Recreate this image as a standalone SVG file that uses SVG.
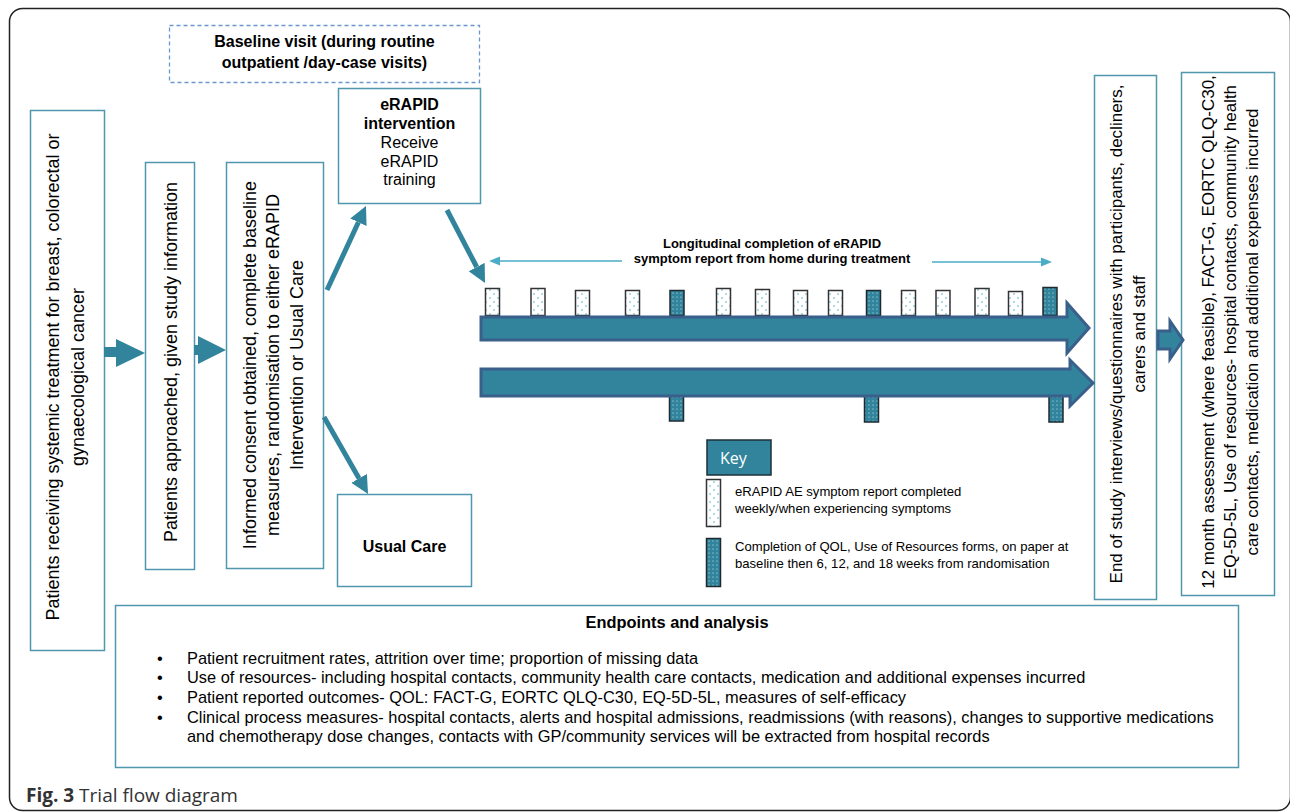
<svg xmlns="http://www.w3.org/2000/svg" width="1290" height="812" viewBox="0 0 1290 812">
<defs>
<style>
.bx{fill:#fff;stroke:#4f97ad;stroke-width:1.5}
.t{font-family:"Liberation Sans",Arial,sans-serif;font-size:16px;fill:#000}
.r18{font-size:18px}
.r17{font-size:17px}
.e{font-size:16.4px}
.b{font-weight:bold}
.m{text-anchor:middle}
.k{font-family:"Liberation Sans",Arial,sans-serif;font-size:13.1px;fill:#000}
.big{fill:#31849b;stroke:#3a5f8b;stroke-width:3;stroke-linejoin:miter}
.blk{fill:#31849b}
.diag{stroke:#31849b;stroke-width:5;fill:none}
.thin{stroke:#4bacc6;stroke-width:1.5;fill:none}
.wr{fill:url(#pw);stroke:#333;stroke-width:1.5}
.tr{fill:url(#pt);stroke:#1e2a30;stroke-width:1.5}
</style>
<pattern id="pw" patternUnits="userSpaceOnUse" width="8" height="8">
<rect width="8" height="8" fill="#fff"/>
<circle cx="2" cy="2" r="0.8" fill="#4bacc6"/>
<circle cx="6" cy="6" r="0.8" fill="#4bacc6"/>
</pattern>
<pattern id="pt" patternUnits="userSpaceOnUse" width="4" height="4">
<rect width="4" height="4" fill="#31849b"/>
<circle cx="1" cy="1" r="0.6" fill="#d8eef2"/>
</pattern>
<marker id="ah" markerUnits="userSpaceOnUse" markerWidth="20" markerHeight="20" refX="0" refY="9" orient="auto">
<path d="M0,0 L18,9 L0,18 Z" fill="#31849b"/>
</marker>
<marker id="sh" markerUnits="userSpaceOnUse" markerWidth="12" markerHeight="10" refX="0" refY="4.5" orient="auto">
<path d="M0,0 L11,4.5 L0,9 Z" fill="#4bacc6"/>
</marker>
</defs>

<rect x="9.5" y="8.5" width="1281" height="802" rx="13" fill="#fff" stroke="#222" stroke-width="1.5"/>

<g id="baseline-visit">
<rect x="169.5" y="25.5" width="310" height="57" fill="none" stroke="#6b97cf" stroke-width="1.3" stroke-dasharray="4 3"/>
<text class="t b m" x="324.5" y="47">Baseline visit (during routine</text>
<text class="t b m" x="324.5" y="68">outpatient /day-case visits)</text>
</g>

<g id="patients-receiving">
<rect class="bx" x="30.5" y="110.5" width="74" height="540"/>
<text class="t r18 m" transform="translate(59,377) rotate(-90)">Patients receiving systemic treatment for breast, colorectal or</text>
<text class="t r18 m" transform="translate(84,377) rotate(-90)">gynaecological cancer</text>
</g>

<g id="patients-approached">
<rect class="bx" x="145.5" y="162.5" width="49" height="407"/>
<text class="t r18 m" transform="translate(176.5,362) rotate(-90)">Patients approached, given study information</text>
</g>

<g id="informed-consent">
<rect class="bx" x="226.5" y="162.5" width="97" height="406"/>
<text class="t r18 m" transform="translate(256,365) rotate(-90)">Informed consent obtained, complete baseline</text>
<text class="t r18 m" transform="translate(279,365) rotate(-90)">measures, randomisation to either eRAPID</text>
<text class="t r18 m" transform="translate(303,365) rotate(-90)">Intervention or Usual Care</text>
</g>

<g id="erapid-intervention">
<rect class="bx" x="338.5" y="88.5" width="142" height="115"/>
<text class="t b m" x="409.5" y="110">eRAPID</text>
<text class="t b m" x="409.5" y="129">intervention</text>
<text class="t m" x="409.5" y="148">Receive</text>
<text class="t m" x="409.5" y="167">eRAPID</text>
<text class="t m" x="409.5" y="185">training</text>
</g>

<g id="usual-care">
<rect class="bx" x="337.5" y="494.5" width="134" height="92"/>
<text class="t b m" x="404.5" y="552">Usual Care</text>
</g>

<g id="end-of-study">
<rect class="bx" x="1094.5" y="75.5" width="62" height="524"/>
<text class="t r17 m" transform="translate(1122,334) rotate(-90)">End of study interviews/questionnaires with participants, decliners,</text>
<text class="t r17 m" transform="translate(1145,334) rotate(-90)">carers and staff</text>
</g>

<g id="twelve-month">
<rect class="bx" x="1181.5" y="72.5" width="93" height="523"/>
<text class="t r17 m" transform="translate(1214,332) rotate(-90)">12 month assessment (where feasible), FACT-G, EORTC QLQ-C30,</text>
<text class="t r17 m" transform="translate(1236,332) rotate(-90)">EQ-5D-5L, Use of resources- hospital contacts, community health</text>
<text class="t r17 m" transform="translate(1258,332) rotate(-90)">care contacts, medication and additional expenses incurred</text>
</g>

<g id="timeline-label">
<text class="t b m" style="font-size:13px" x="772" y="248">Longitudinal completion of eRAPID</text>
<text class="t b m" style="font-size:13px" x="772" y="263">symptom report from home during treatment</text>
</g>

<g id="timeline-markers">
<rect class="wr" x="485.5" y="288.5" width="14" height="27"/>
<rect class="wr" x="531" y="288.5" width="14" height="27"/>
<rect class="wr" x="575.5" y="290.5" width="14" height="25"/>
<rect class="wr" x="625.5" y="290.5" width="14" height="25"/>
<rect class="tr" x="670" y="290.5" width="14" height="25"/>
<rect class="wr" x="716.5" y="288.5" width="14" height="27"/>
<rect class="wr" x="755.5" y="289.5" width="14" height="26"/>
<rect class="wr" x="793.5" y="290.5" width="14" height="25"/>
<rect class="wr" x="828.5" y="290.5" width="14" height="25"/>
<rect class="tr" x="866.5" y="290.5" width="14" height="25"/>
<rect class="wr" x="901.5" y="290.5" width="14" height="25"/>
<rect class="wr" x="936" y="290.5" width="14" height="25"/>
<rect class="wr" x="975" y="288.5" width="14" height="27"/>
<rect class="wr" x="1008.5" y="291.5" width="14" height="24"/>
<rect class="tr" x="1043" y="287.5" width="14" height="28"/>
<rect class="tr" x="669.5" y="396" width="14" height="25"/>
<rect class="tr" x="864.5" y="396" width="14" height="26"/>
<rect class="tr" x="1049" y="396" width="14" height="26"/>
</g>

<g id="key">
<rect x="707" y="440" width="64" height="35" fill="#31849b" stroke="#1c2f38" stroke-width="1.5"/>
<text x="720" y="464" style="font-family:'Open Sans',sans-serif;font-size:16px;fill:#fff">Key</text>
<rect class="wr" x="706.5" y="479.5" width="14" height="47"/>
<text class="k" x="735" y="496">eRAPID AE symptom report completed</text>
<text class="k" x="735" y="513">weekly/when experiencing symptoms</text>
<rect class="tr" x="706.5" y="538.5" width="14" height="48"/>
<text class="k" x="735" y="551">Completion of QOL, Use of Resources forms, on paper at</text>
<text class="k" x="735" y="568">baseline then 6, 12, and 18 weeks from randomisation</text>
</g>

<g id="endpoints">
<rect x="115.5" y="605.5" width="1123" height="162" fill="#fff" stroke="#4f97ad" stroke-width="1.5"/>
<text class="t e b m" x="677" y="628">Endpoints and analysis</text>
<g class="t e">
<text x="157" y="664">•</text>
<text x="187" y="664">Patient recruitment rates, attrition over time; proportion of missing data</text>
<text x="157" y="683">•</text>
<text x="187" y="683">Use of resources- including hospital contacts, community health care contacts, medication and additional expenses incurred</text>
<text x="157" y="703">•</text>
<text x="187" y="703">Patient reported outcomes- QOL: FACT-G, EORTC QLQ-C30, EQ-5D-5L, measures of self-efficacy</text>
<text x="157" y="723">•</text>
<text x="187" y="723">Clinical process measures- hospital contacts, alerts and hospital admissions, readmissions (with reasons), changes to supportive medications</text>
<text x="187" y="742">and chemotherapy dose changes, contacts with GP/community services will be extracted from hospital records</text>
</g>
</g>

<g id="connectors">
<path class="blk" d="M104,347 L116,347 L116,339 L145,353 L116,367 L116,357 L104,357 Z"/>
<path class="blk" d="M194,345 L198,345 L198,336 L226,350 L198,364 L198,355 L194,355 Z"/>
<line class="diag" x1="327" y1="290" x2="358.4" y2="222.3" marker-end="url(#ah)"/>
<line class="diag" x1="447" y1="210" x2="476.7" y2="267" marker-end="url(#ah)"/>
<line class="diag" x1="324" y1="417" x2="359.1" y2="478.4" marker-end="url(#ah)"/>
<line class="thin" x1="622" y1="261" x2="500" y2="261" marker-end="url(#sh)"/>
<line class="thin" x1="932" y1="262" x2="1041" y2="262" marker-end="url(#sh)"/>
<path class="big" d="M481,317 L1067,317 L1067,303 L1089,328 L1067,353 L1067,340 L481,340 Z"/>
<path class="big" d="M481,369 L1070,369 L1070,360 L1093,383 L1070,406 L1070,396 L481,396 Z"/>
<path class="big" d="M1158,331 L1170,331 L1170,321 L1183,340 L1170,359 L1170,349 L1158,349 Z"/>
</g>

<text x="26" y="802" style="font-family:'Open Sans',sans-serif;font-size:19px;fill:#333"><tspan font-weight="bold">Fig. 3</tspan> Trial flow diagram</text>
</svg>
